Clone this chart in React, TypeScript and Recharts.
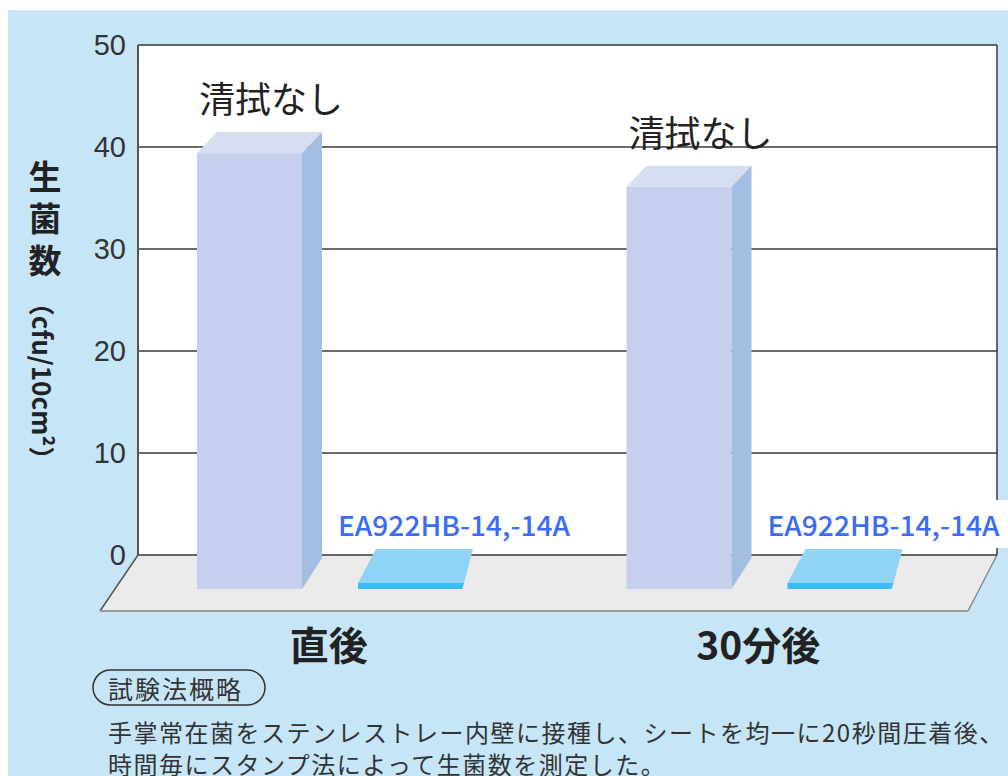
import React from 'react';
import { BarChart, Bar, XAxis, YAxis, CartesianGrid } from 'recharts';

const categories = ['直後', '30分後'];
const untreatedValues = [39.4, 36.1];
const treatedValues = [0, 0];
const untreatedLabel = '清拭なし';
const treatedLabel = 'EA922HB-14,-14A';
const yTicks = [0, 10, 20, 30, 40, 50];

const data = categories.map((cat, i) => ({
  cat,
  untreated: untreatedValues[i],
  treated: treatedValues[i],
}));

const W = 1008;
const H = 776;
const PLOT_LEFT = 138;
const PLOT_RIGHT = 997;
const PLOT_TOP = 45;
const PLOT_BOTTOM = 555;
const Y_AXIS_W = 60;
const X_AXIS_H = 60;

const JP = '"Noto Sans CJK JP", "Noto Sans", sans-serif';
const LAT = '"Liberation Sans", Arial, sans-serif';

// recharts puts the bar slot a little right of where the front face is drawn
const SHIFT = 23;

const TallBar = (props: any) => {
  const { x, y, width, height } = props;
  const fx = x - SHIFT;
  const base = y + height;
  const bottom = base + 34;
  const dx = 20;
  const dy = 21;
  return (
    <g>
      <rect x={fx} y={y} width={width} height={bottom - y} fill="#c6d0ec" />
      <polygon
        points={`${fx},${y} ${fx + dx},${y - dy} ${fx + width + dx},${y - dy} ${fx + width},${y}`}
        fill="#d8def2"
      />
      <polygon
        points={`${fx + width},${y} ${fx + width + dx},${y - dy} ${fx + width + dx},${base + 3} ${fx + width},${bottom}`}
        fill="#a4bde3"
      />
      <text
        x={fx + 74}
        y={y - 56}
        textAnchor="middle"
        dominantBaseline="central"
        fontFamily={JP}
        fontSize={36}
        fill="#222"
      >
        {untreatedLabel}
      </text>
    </g>
  );
};

const SlabBar = (props: any) => {
  const { x, y, width, height } = props;
  const fx = x - SHIFT;
  const base = y + height;
  const w = width - 1;
  const tx = fx - 20;
  return (
    <g>
      <rect x={tx - 10} y={base - 55} width={256} height={48} fill="#fff" />
      <text
        x={tx}
        y={base - 31}
        dominantBaseline="central"
        fontFamily={JP}
        fontSize={27}
        fontWeight={500}
        fill="#3a6cf4"
        textLength={232}
        lengthAdjust="spacingAndGlyphs"
      >
        {treatedLabel}
      </text>
      <polygon
        points={`${fx},${base + 28} ${fx + 18},${base - 6} ${fx + w + 11},${base - 6} ${fx + w + 2},${base + 28}`}
        fill="#8fd4f4"
      />
      <polygon
        points={`${fx},${base + 28} ${fx + w + 2},${base + 28} ${fx + w},${base + 34} ${fx},${base + 34}`}
        fill="#38bdf0"
      />
    </g>
  );
};

const CatTick = (props: any) => {
  const { x, payload } = props;
  return (
    <text
      x={x - 24}
      y={PLOT_BOTTOM + 88}
      textAnchor="middle"
      dominantBaseline="central"
      fontFamily={JP}
      fontSize={39}
      fontWeight={700}
      fill="#222"
    >
      {payload.value}
    </text>
  );
};

export default function App() {
  return (
    <div style={{ position: 'fixed', left: 0, top: 0, width: W, height: H, background: '#fff', overflow: 'hidden' }}>
      <div style={{ position: 'absolute', left: 8, top: 10, right: 0, bottom: 0, background: '#c6e6f8' }} />
      <svg width={W} height={H} style={{ position: 'absolute', left: 0, top: 0 }}>
        {/* floor */}
        <polygon
          points={`${PLOT_LEFT},${PLOT_BOTTOM} ${PLOT_RIGHT},${PLOT_BOTTOM} ${PLOT_RIGHT - 29},${PLOT_BOTTOM + 56} ${PLOT_LEFT - 38},${PLOT_BOTTOM + 56}`}
          fill="#ebebeb"
        />
        <line x1={PLOT_LEFT} y1={PLOT_BOTTOM} x2={PLOT_LEFT - 38} y2={PLOT_BOTTOM + 56} stroke="#555" strokeWidth={1.5} />
        <line x1={PLOT_LEFT - 38} y1={PLOT_BOTTOM + 56} x2={PLOT_RIGHT - 29} y2={PLOT_BOTTOM + 56} stroke="#999" strokeWidth={2} />
        <line x1={PLOT_RIGHT} y1={PLOT_BOTTOM} x2={PLOT_RIGHT - 29} y2={PLOT_BOTTOM + 56} stroke="#888" strokeWidth={1.5} />

        {/* y axis title */}
        <text
          x={45}
          y={160}
          style={{ writingMode: 'vertical-rl' } as any}
          fontFamily={JP}
          fontSize={33}
          fontWeight={700}
          letterSpacing={9}
          fill="#222"
        >
          生菌数
        </text>
        <text
          transform="translate(43,381) rotate(90)"
          textAnchor="middle"
          dominantBaseline="central"
          fontFamily={JP}
          fontSize={26}
          fontWeight={700}
          fill="#222"
        >
          （cfu/10cm²）
        </text>

        {/* method note */}
        <rect x={93} y={670} width={172} height={35} rx={17.5} fill="none" stroke="#333" strokeWidth={1.5} />
        <text x={108} y={688} dominantBaseline="central" fontFamily={JP} fontSize={25} letterSpacing={2} fill="#333">
          試験法概略
        </text>
        <text x={108} y={731} dominantBaseline="central" fontFamily={JP} fontSize={24} letterSpacing={1.5} fill="#333">
          手掌常在菌をステンレストレー内壁に接種し、シートを均一に20秒間圧着後、
        </text>
        <text x={108} y={763} dominantBaseline="central" fontFamily={JP} fontSize={24} letterSpacing={1.5} fill="#333">
          時間毎にスタンプ法によって生菌数を測定した。
        </text>
      </svg>
      <div style={{ position: 'absolute', left: 0, top: 0 }}>
        <BarChart
          width={W}
          height={H}
          data={data}
          margin={{
            top: PLOT_TOP,
            right: W - PLOT_RIGHT,
            left: PLOT_LEFT - Y_AXIS_W,
            bottom: H - PLOT_BOTTOM - X_AXIS_H,
          }}
          barSize={105}
          barGap={56}
        >
          <CartesianGrid
            fill="#fff"
            stroke="#3a3a3a"
            strokeWidth={1.5}
            verticalCoordinatesGenerator={({ offset }: any) => [offset.left + offset.width]}
          />
          <XAxis dataKey="cat" height={X_AXIS_H} axisLine={false} tickLine={false} tick={<CatTick />} interval={0} />
          <YAxis
            width={Y_AXIS_W}
            domain={[0, 50]}
            ticks={yTicks}
            interval={0}
            axisLine={{ stroke: '#555', strokeWidth: 2 }}
            tickLine={false}
            tickSize={0}
            tickMargin={12}
            tick={{ fontFamily: LAT, fontSize: 29, fill: '#333' }}
          />
          <Bar dataKey="untreated" shape={<TallBar />} isAnimationActive={false} />
          <Bar dataKey="treated" shape={<SlabBar />} minPointSize={2} isAnimationActive={false} />
        </BarChart>
      </div>
    </div>
  );
}
